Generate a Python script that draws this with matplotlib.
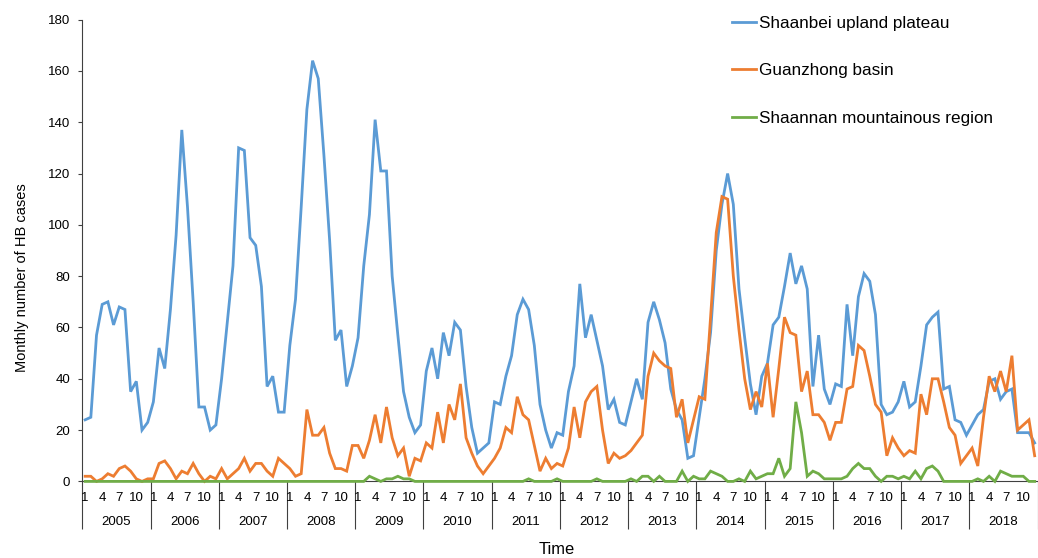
import numpy as np
import matplotlib
matplotlib.use("Agg")
import matplotlib.pyplot as plt

plt.rcParams['font.family'] = ['Liberation Sans', 'DejaVu Sans']

years = [str(y) for y in range(2005, 2019)]
month_labels = ['1', '4', '7', '10']
month_label_pos = [0, 3, 6, 9]

series_names = ['Shaanbei upland plateau', 'Guanzhong basin',
                'Shaannan mountainous region']
series_colors = ['#5B9BD5', '#ED7D31', '#70AD47']

shaanbei = [
    24, 25, 57, 69, 70, 61, 68, 67, 35, 39, 20, 23,      # 2005
    31, 52, 44, 67, 96, 137, 107, 70, 29, 29, 20, 22,    # 2006
    40, 62, 84, 130, 129, 95, 92, 76, 37, 41, 27, 27,    # 2007
    53, 71, 107, 145, 164, 157, 127, 94, 55, 59, 37, 45, # 2008
    56, 84, 104, 141, 121, 121, 80, 57, 35, 25, 19, 22,  # 2009
    43, 52, 40, 58, 49, 62, 59, 37, 21, 11, 13, 15,      # 2010
    31, 30, 41, 49, 65, 71, 67, 53, 30, 20, 13, 19,      # 2011
    18, 35, 45, 77, 56, 65, 55, 45, 28, 32, 23, 22,      # 2012
    31, 40, 32, 62, 70, 63, 54, 36, 28, 24, 9, 10,       # 2013
    25, 40, 58, 90, 108, 120, 108, 75, 56, 38, 26, 41,   # 2014
    46, 61, 64, 76, 89, 77, 84, 75, 37, 57, 36, 30,      # 2015
    38, 37, 69, 49, 72, 81, 78, 65, 30, 26, 27, 31,      # 2016
    39, 29, 31, 45, 61, 64, 66, 36, 37, 24, 23, 18,      # 2017
    22, 26, 28, 39, 40, 32, 35, 36, 19, 19, 19, 15,      # 2018
]

guanzhong = [
    2, 2, 0, 1, 3, 2, 5, 6, 4, 1, 0, 1,                  # 2005
    1, 7, 8, 5, 1, 4, 3, 7, 3, 0, 2, 1,                  # 2006
    5, 1, 3, 5, 9, 4, 7, 7, 4, 2, 9, 7,                  # 2007
    5, 2, 3, 28, 18, 18, 21, 11, 5, 5, 4, 14,            # 2008
    14, 9, 16, 26, 15, 29, 17, 10, 13, 2, 9, 8,          # 2009
    15, 13, 27, 15, 30, 24, 38, 17, 11, 6, 3, 6,         # 2010
    9, 13, 21, 19, 33, 26, 24, 14, 4, 9, 5, 7,           # 2011
    6, 13, 29, 17, 31, 35, 37, 20, 7, 11, 9, 10,         # 2012
    12, 15, 18, 41, 50, 47, 45, 44, 25, 32, 15, 24,      # 2013
    33, 32, 64, 97, 111, 110, 80, 59, 40, 28, 35, 29,    # 2014
    46, 25, 44, 64, 58, 57, 35, 43, 26, 26, 23, 16,      # 2015
    23, 23, 36, 37, 53, 51, 41, 30, 27, 10, 17, 13,      # 2016
    10, 12, 11, 34, 26, 40, 40, 31, 21, 18, 7, 10,       # 2017
    13, 6, 25, 41, 35, 43, 35, 49, 20, 22, 24, 10,       # 2018
]

shaannan = [
    0, 0, 0, 0, 0, 0, 0, 0, 0, 0, 0, 0,                  # 2005
    0, 0, 0, 0, 0, 0, 0, 0, 0, 0, 0, 0,                  # 2006
    0, 0, 0, 0, 0, 0, 0, 0, 0, 0, 0, 0,                  # 2007
    0, 0, 0, 0, 0, 0, 0, 0, 0, 0, 0, 0,                  # 2008
    0, 0, 2, 1, 0, 1, 1, 2, 1, 1, 0, 0,                  # 2009
    0, 0, 0, 0, 0, 0, 0, 0, 0, 0, 0, 0,                  # 2010
    0, 0, 0, 0, 0, 0, 1, 0, 0, 0, 0, 1,                  # 2011
    0, 0, 0, 0, 0, 0, 1, 0, 0, 0, 0, 0,                  # 2012
    1, 0, 2, 2, 0, 2, 0, 0, 0, 4, 0, 2,                  # 2013
    1, 1, 4, 3, 2, 0, 0, 1, 0, 4, 1, 2,                  # 2014
    3, 3, 9, 2, 5, 31, 19, 2, 4, 3, 1, 1,                # 2015
    1, 1, 2, 5, 7, 5, 5, 2, 0, 2, 2, 1,                  # 2016
    2, 1, 4, 1, 5, 6, 4, 0, 0, 0, 0, 0,                  # 2017
    0, 1, 0, 2, 0, 4, 3, 2, 2, 2, 0, 0,                  # 2018
]

W, H = 1038, 558
fig = plt.figure(figsize=(W / 100, H / 100), dpi=100)
ax = fig.add_axes([82.3 / W, (H - 481.4) / H,
                   (1037.5 - 82.3) / W, (481.4 - 19.6) / H])

x = np.arange(len(shaanbei))
handles = []
for vals, name, col, z in zip([shaanbei, guanzhong, shaannan], series_names,
                              series_colors, [3, 4, 5]):
    ln, = ax.plot(x, vals, color=col, lw=2.0, label=name, zorder=z,
                  solid_joinstyle='miter', clip_on=False)
    handles.append(ln)

axis_col = '#404040'
ax.set_xlim(-0.5, len(x) - 0.5)
ax.set_ylim(0, 180)
ax.set_yticks(np.arange(0, 181, 20))
ax.tick_params(axis='y', direction='out', length=2.9, width=0.8,
               color=axis_col, pad=6, labelsize=9.5, labelcolor='#000000')
ax.set_xticks([])
for s in ['top', 'right']:
    ax.spines[s].set_visible(False)
for s in ['left', 'bottom']:
    ax.spines[s].set_color(axis_col)
    ax.spines[s].set_linewidth(0.8)

# Two-level category axis: month numbers and years, with year separators
xt = ax.get_xaxis_transform()
ah = 481.4 - 19.6
y_month = -(498.3 - 481.4) / ah
y_year = -(521.7 - 481.4) / ah
y_sep = -(529.0 - 481.4) / ah
for j, yr in enumerate(years):
    for lab, p in zip(month_labels, month_label_pos):
        ax.text(12 * j + p, y_month, lab, transform=xt, ha='center',
                va='center', fontsize=9.5, clip_on=False)
    ax.text(12 * j + 5.5, y_year, yr, transform=xt, ha='center',
            va='center', fontsize=9.5, clip_on=False)
sep_x = [12 * j - 0.5 for j in range(len(years) + 1)]
ax.vlines(sep_x, y_sep, 0, transform=xt, colors=axis_col, lw=0.8,
          clip_on=False)

fig.text(22 / W, 1 - 278 / H, 'Monthly number of HB cases', rotation=90,
         ha='center', va='center', fontsize=10.5)
fig.text(557 / W, 1 - 550 / H, 'Time', ha='center', va='center',
         fontsize=11.9)

fs = 12.3
fig.legend(handles=handles, loc='upper left',
           bbox_to_anchor=(731.7 / W, 1 - 16.0 / H), frameon=False,
           fontsize=fs, handlelength=1.42, handletextpad=0.19,
           labelspacing=1.89, borderpad=0, borderaxespad=0)

fig.savefig('out.png', dpi=100)
